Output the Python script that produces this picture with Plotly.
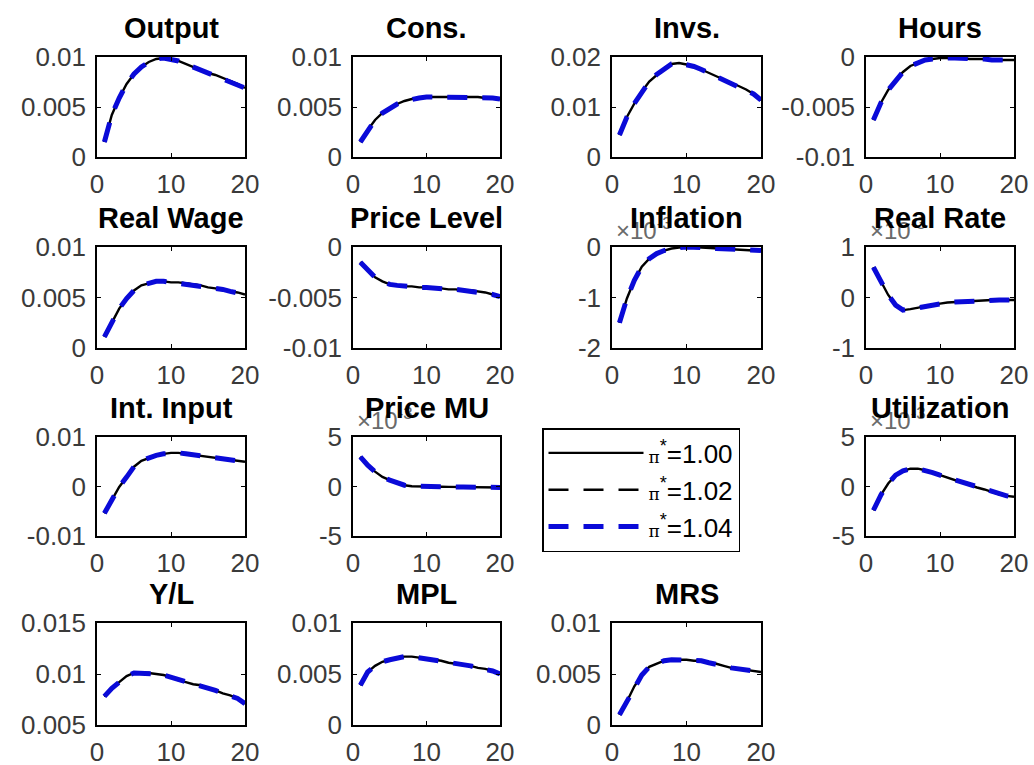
import plotly.graph_objects as go

# Impulse responses over 20 quarters for three steady-state inflation targets
periods = list(range(1, 21))

PI = "<span style='font-family:DejaVu Serif;font-size:17px'>π</span>"
scenario_labels = [PI + "<sup>*</sup>=1.00", PI + "<sup>*</sup>=1.02", PI + "<sup>*</sup>=1.04"]

output = [0.0015, 0.0042, 0.0059, 0.0073, 0.0083, 0.0090, 0.0095, 0.0098, 0.0099, 0.0098,
          0.0096, 0.0093, 0.0090, 0.0087, 0.0084, 0.0082, 0.0079, 0.0076, 0.0073, 0.0069]
cons = [0.0015, 0.0027, 0.0037, 0.0044, 0.0049, 0.0053, 0.0056, 0.0058, 0.0059, 0.0060,
        0.0060, 0.0060, 0.0060, 0.0060, 0.0060, 0.0060, 0.0060, 0.0059, 0.0059, 0.0058]
invs = [0.0044, 0.0080, 0.0107, 0.0131, 0.0151, 0.0165, 0.0177, 0.0186, 0.0188, 0.0185,
        0.0181, 0.0175, 0.0168, 0.0162, 0.0155, 0.0148, 0.0142, 0.0135, 0.0126, 0.0114]
hours = [-0.0063, -0.0046, -0.0033, -0.0023, -0.0015, -0.0009, -0.0006, -0.0003, -0.0002, -0.0001,
         -0.0001, -0.0001, -0.0001, -0.0002, -0.0002, -0.0002, -0.0003, -0.0003, -0.0003, -0.0003]
real_wage = [0.0011, 0.0025, 0.0039, 0.0049, 0.0057, 0.0062, 0.0064, 0.0066, 0.0066, 0.0065,
             0.0065, 0.0064, 0.0063, 0.0062, 0.0060, 0.0059, 0.0058, 0.0056, 0.0055, 0.0053]
price_level = [-0.0015, -0.0023, -0.0030, -0.0034, -0.0037, -0.0038, -0.0039, -0.0039, -0.0040, -0.0040,
               -0.0041, -0.0041, -0.0042, -0.0042, -0.0043, -0.0043, -0.0044, -0.0045, -0.0047, -0.0049]
inflation = [-1.50e-3, -1.02e-3, -0.66e-3, -0.39e-3, -0.23e-3, -0.13e-3, -0.07e-3, -0.03e-3, -0.01e-3, 0.0,
             0.0, -0.01e-3, -0.02e-3, -0.03e-3, -0.04e-3, -0.05e-3, -0.06e-3, -0.07e-3, -0.07e-3, -0.07e-3]
real_rate = [0.60e-3, 0.31e-3, 0.05e-3, -0.15e-3, -0.25e-3, -0.23e-3, -0.20e-3, -0.17e-3, -0.14e-3, -0.12e-3,
             -0.10e-3, -0.09e-3, -0.08e-3, -0.07e-3, -0.06e-3, -0.05e-3, -0.05e-3, -0.05e-3, -0.05e-3, -0.05e-3]
int_input = [-0.0054, -0.0028, -0.0001, 0.0019, 0.0040, 0.0052, 0.0058, 0.0063, 0.0066, 0.0068,
             0.0068, 0.0066, 0.0064, 0.0062, 0.0060, 0.0058, 0.0056, 0.0053, 0.0051, 0.0050]
price_mu = [3.0e-3, 2.15e-3, 1.5e-3, 0.97e-3, 0.64e-3, 0.37e-3, 0.13e-3, 0.03e-3, 0.0, -0.03e-3,
            -0.03e-3, -0.03e-3, -0.04e-3, -0.04e-3, -0.05e-3, -0.05e-3, -0.05e-3, -0.05e-3, -0.06e-3, -0.10e-3]
utilization = [-2.4e-3, -0.87e-3, 0.3e-3, 1.14e-3, 1.58e-3, 1.8e-3, 1.8e-3, 1.64e-3, 1.4e-3, 1.14e-3,
               0.9e-3, 0.64e-3, 0.4e-3, 0.13e-3, -0.1e-3, -0.3e-3, -0.55e-3, -0.8e-3, -0.95e-3, -1.04e-3]
y_per_l = [0.0078, 0.0086, 0.0092, 0.0098, 0.0101, 0.0101, 0.0101, 0.0100, 0.0099, 0.0097,
           0.0094, 0.0092, 0.0090, 0.0089, 0.0086, 0.0084, 0.0081, 0.0079, 0.0076, 0.0071]
mpl = [0.0039, 0.0052, 0.0058, 0.0062, 0.0064, 0.0066, 0.0067, 0.0067, 0.0066, 0.0065,
       0.0064, 0.0063, 0.0061, 0.0060, 0.0059, 0.0058, 0.0056, 0.0055, 0.0053, 0.0050]
mrs = [0.0010, 0.0023, 0.0038, 0.0049, 0.0057, 0.0060, 0.0063, 0.0064, 0.0064, 0.0064,
       0.0063, 0.0063, 0.0061, 0.0060, 0.0058, 0.0056, 0.0055, 0.0054, 0.0053, 0.0052]

# panel: (title, series, row, col, y tick values, y tick labels, uses x10^-3 exponent)
panels = [
    ("Output", output, 0, 0, [0, 0.005, 0.01], ["0", "0.005", "0.01"], False),
    ("Cons.", cons, 0, 1, [0, 0.005, 0.01], ["0", "0.005", "0.01"], False),
    ("Invs.", invs, 0, 2, [0, 0.01, 0.02], ["0", "0.01", "0.02"], False),
    ("Hours", hours, 0, 3, [-0.01, -0.005, 0], ["-0.01", "-0.005", "0"], False),
    ("Real Wage", real_wage, 1, 0, [0, 0.005, 0.01], ["0", "0.005", "0.01"], False),
    ("Price Level", price_level, 1, 1, [-0.01, -0.005, 0], ["-0.01", "-0.005", "0"], False),
    ("Inflation", inflation, 1, 2, [-2e-3, -1e-3, 0], ["-2", "-1", "0"], True),
    ("Real Rate", real_rate, 1, 3, [-1e-3, 0, 1e-3], ["-1", "0", "1"], True),
    ("Int. Input", int_input, 2, 0, [-0.01, 0, 0.01], ["-0.01", "0", "0.01"], False),
    ("Price MU", price_mu, 2, 1, [-5e-3, 0, 5e-3], ["-5", "0", "5"], True),
    ("Utilization", utilization, 2, 3, [-5e-3, 0, 5e-3], ["-5", "0", "5"], True),
    ("Y/L", y_per_l, 3, 0, [0.005, 0.01, 0.015], ["0.005", "0.01", "0.015"], False),
    ("MPL", mpl, 3, 1, [0, 0.005, 0.01], ["0", "0.005", "0.01"], False),
    ("MRS", mrs, 3, 2, [0, 0.005, 0.01], ["0", "0.005", "0.01"], False),
]

W, H = 1034, 765
col_px = [(97, 245), (353, 500), (612, 761), (866, 1014)]
row_px = [(57, 157), (247, 348), (437, 536), (623, 725)]

line_styles = [
    dict(color="black", width=2.4, dash="solid"),
    dict(color="black", width=2.4, dash="20px,15px"),
    dict(color="#0a0ad8", width=5, dash="20px,15px"),
]

TICK_FONT = dict(family="Liberation Sans, Arial", size=26, color="#3a3a3a")
TITLE_FONT = dict(family="Liberation Sans, Arial", size=29, color="black")

fig = go.Figure()
annotations = []

for i, (title, series, r, c, yt, ytl, expo) in enumerate(panels):
    k = i + 1
    xa = "x" if k == 1 else f"x{k}"
    ya = "y" if k == 1 else f"y{k}"
    x0, x1 = col_px[c]
    y0, y1 = row_px[r]
    for s, (label, style) in enumerate(zip(scenario_labels, line_styles)):
        fig.add_trace(go.Scatter(
            x=periods, y=series, mode="lines", name=label, line=style,
            xaxis=xa, yaxis=ya, showlegend=(k == 1), legendgroup=label,
        ))
    axis_common = dict(
        showline=True, linecolor="black", linewidth=1.5, mirror="ticks",
        ticks="inside", ticklen=4, tickcolor="black", showgrid=False,
        zeroline=False, tickfont=TICK_FONT, fixedrange=True, automargin=False,
    )
    fig.update_layout(**{
        ("xaxis" if k == 1 else f"xaxis{k}"): dict(
            domain=[x0 / W, x1 / W], range=[0, 20], tickvals=[0, 10, 20],
            ticktext=["0", "10", "20"], anchor=ya, ticklabelstandoff=3, **axis_common),
        ("yaxis" if k == 1 else f"yaxis{k}"): dict(
            domain=[1 - y1 / H, 1 - y0 / H], range=[yt[0], yt[-1]], tickvals=yt,
            ticktext=ytl, anchor=xa, ticklabelstandoff=4, **axis_common),
    })
    if expo:
        annotations.append(dict(
            x=(x0 + 2) / W, y=1 - (y0 - 1) / H, xref="paper", yref="paper",
            xanchor="left", yanchor="bottom", showarrow=False,
            text="×10<sup>-3</sup>", font=dict(family="Liberation Sans, Arial", size=24, color="#6a6a6a"),
        ))
    annotations.append(dict(
        x=(x0 + x1) / 2 / W, y=1 - (y0 - 29) / H, xref="paper", yref="paper",
        xanchor="center", yanchor="middle", showarrow=False,
        text=f"<b>{title}</b>", font=TITLE_FONT,
    ))

fig.update_layout(
    width=W, height=H,
    margin=dict(l=0, r=0, t=0, b=0, pad=0, autoexpand=False),
    paper_bgcolor="white", plot_bgcolor="white",
    annotations=annotations,
    legend=dict(
        x=542 / W, y=1 - 428 / H, xanchor="left", yanchor="top",
        bordercolor="black", borderwidth=1.5, bgcolor="white",
        font=dict(family="Liberation Sans, Arial", size=26, color="black"),
        itemwidth=95, tracegroupgap=0,
    ),
)

fig.write_html("out.html")
